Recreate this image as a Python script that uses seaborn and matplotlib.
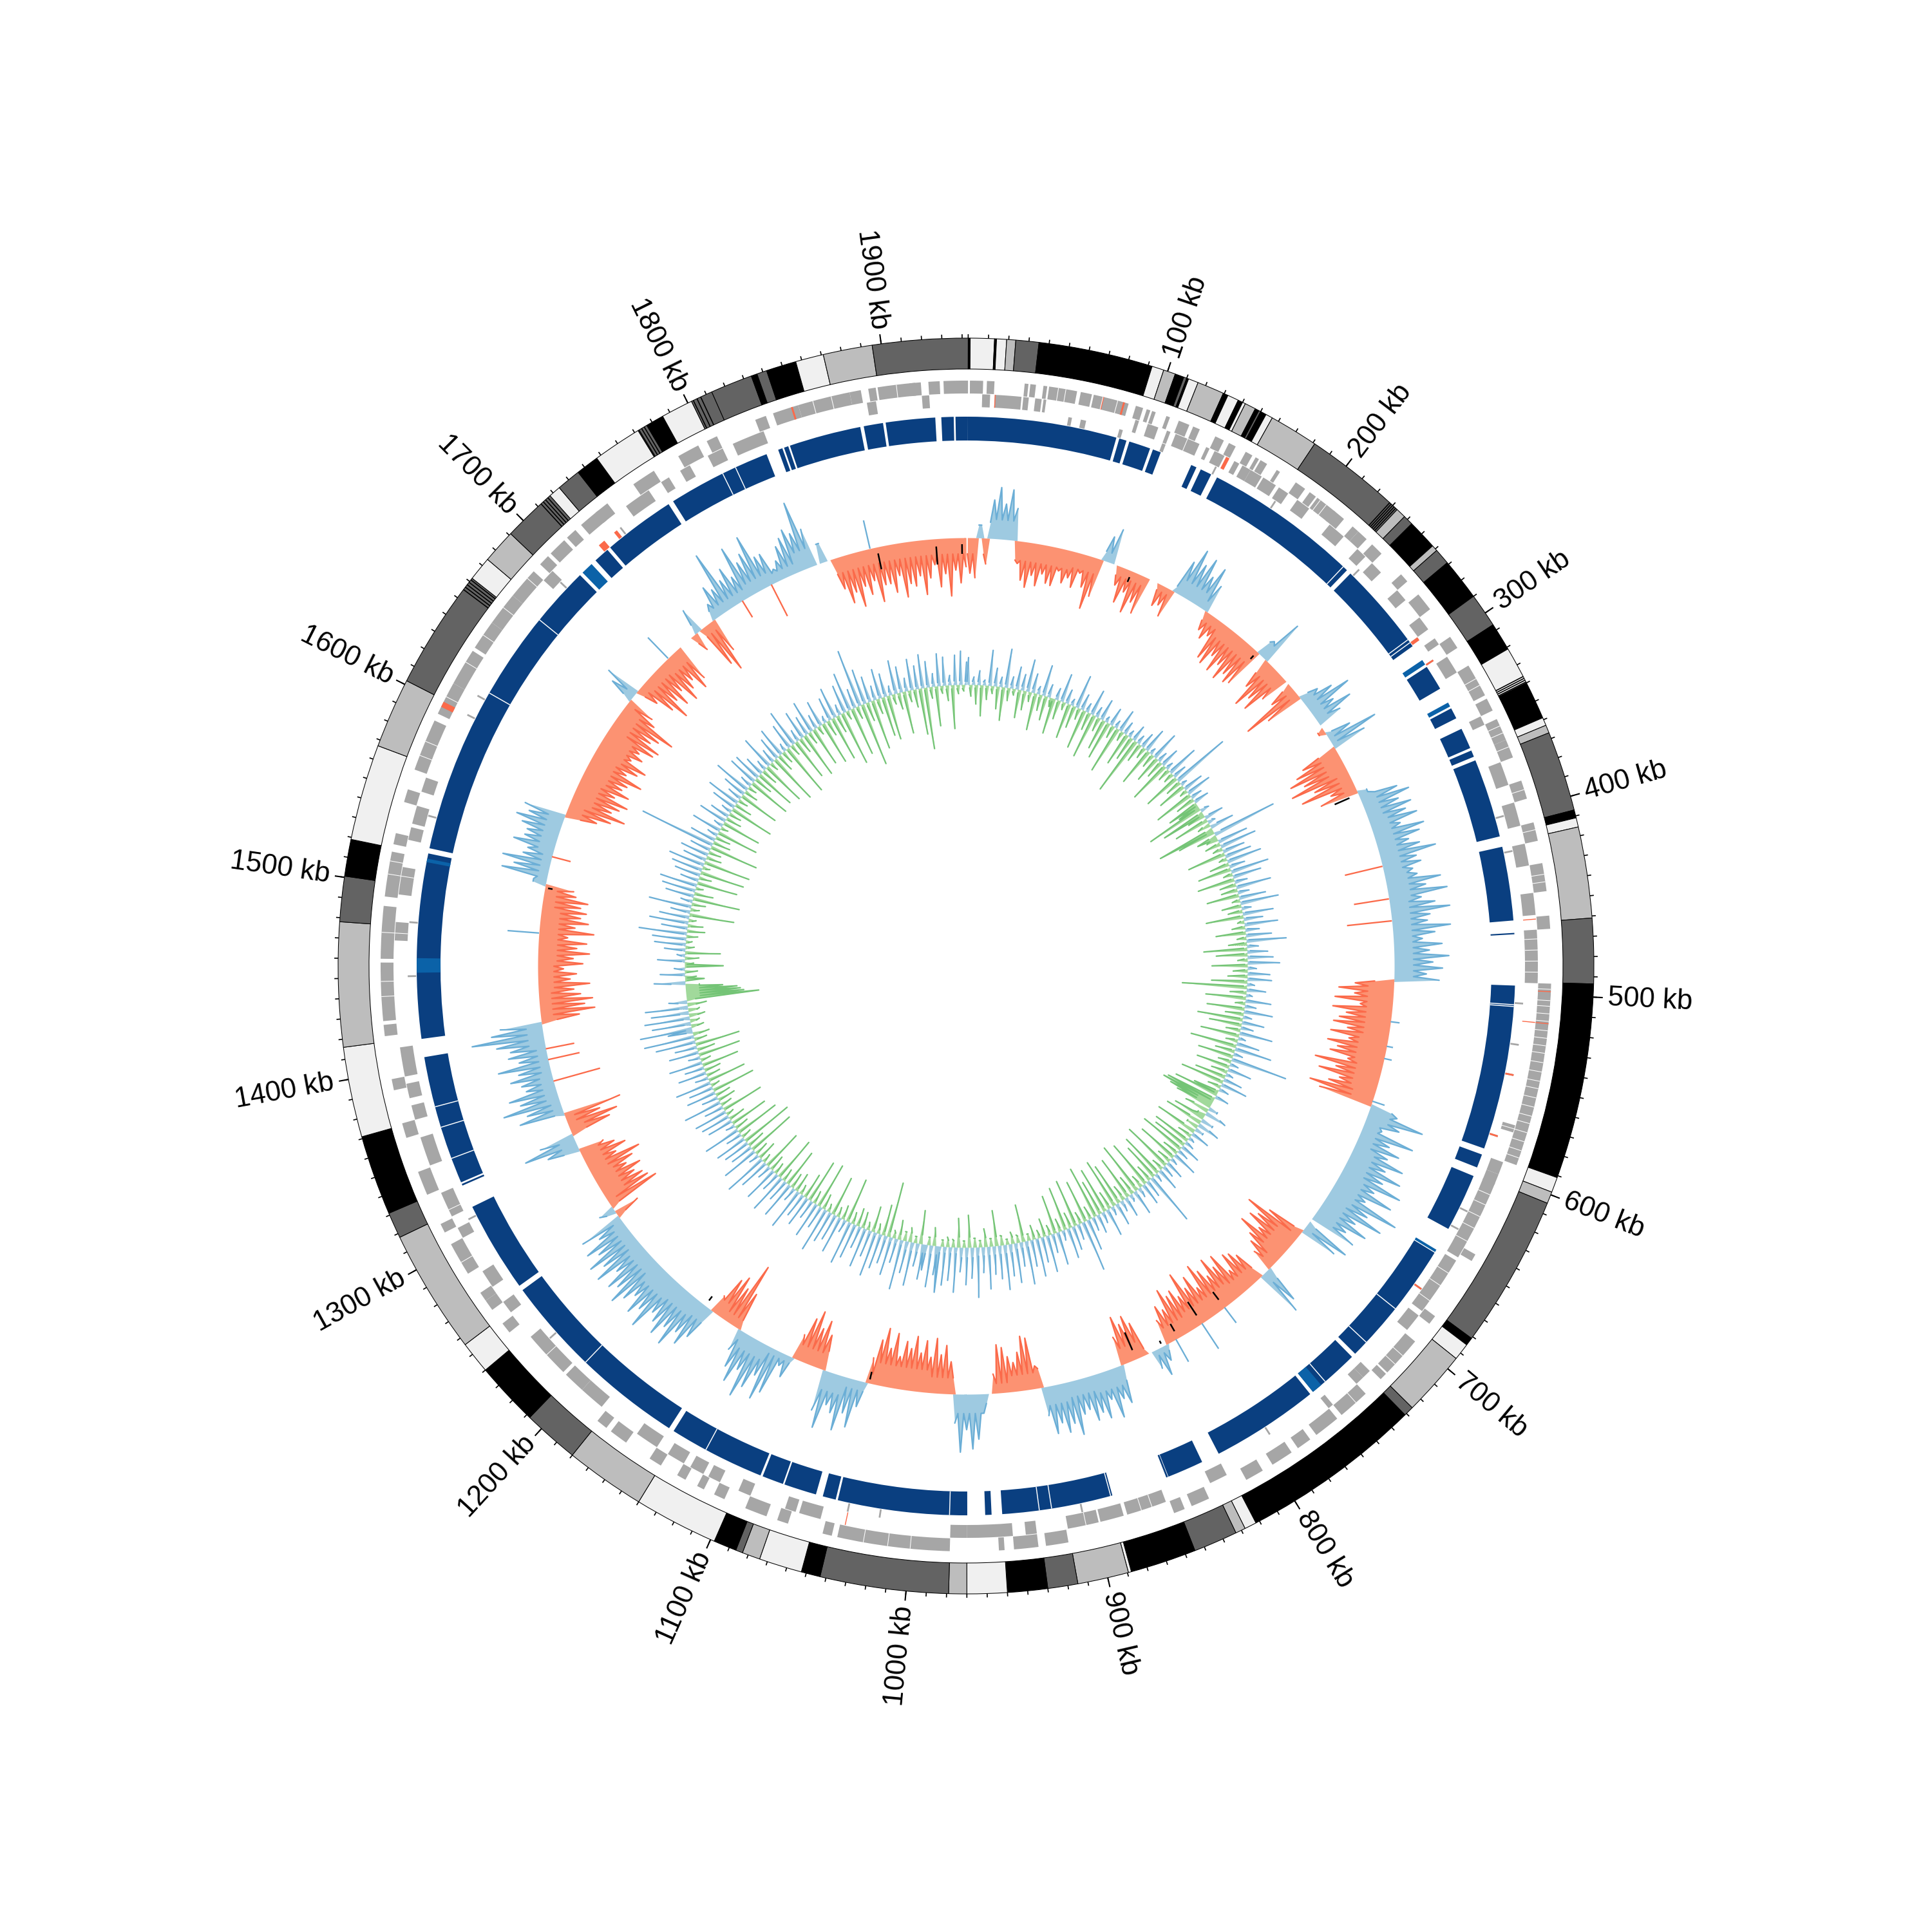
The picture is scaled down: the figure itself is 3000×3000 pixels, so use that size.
import numpy as np
import pandas as pd
import matplotlib
matplotlib.use("Agg")
import matplotlib.pyplot as plt
import seaborn as sns

sns.set_theme(style="white")
plt.rcParams["font.family"] = ["Liberation Sans", "DejaVu Sans"]

GENOME_KB = 1943

# outer band: end position (kb) and tone of each band
band_end = [1, 13, 14, 19, 23.5, 35, 92, 98, 104, 108.5, 110, 111, 116, 129.5, 132, 137.6, 140, 141.5, 147, 149, 150,
            153, 156.5, 181, 233, 238, 243, 258, 261, 269, 290, 307, 321, 340, 359, 363, 367, 407, 411, 415.6, 461,
            493.5, 591, 598.6, 604.5, 681, 685, 693.5, 726, 731, 822, 828, 833, 855, 888, 889.5, 915, 930, 950, 970,
            979, 1043, 1052.5, 1074, 1083, 1086.5, 1098, 1140, 1180, 1208, 1240, 1256, 1318, 1331, 1371, 1416, 1478,
            1500.6, 1519, 1567, 1602, 1662, 1674, 1691, 1718, 1724, 1736, 1747.5, 1772, 1777, 1786, 1802, 1813, 1834,
            1837, 1842, 1857, 1871, 1895.5, 1943]
band_tone = list("kwkwmdkwmkdkwmkwkwmkd"
                 "kwmdmdkmdkdkwkwmdkwm"
                 "dkwmdkwmdkwmdkwmdkwm"
                 "dkwmdkwmdkwmdkwmdkwm"
                 "dwmdwdkwdkwddkdkwmd")
tone_color = {"w": "#f0f0f0", "m": "#bdbdbd", "d": "#636363", "k": "#000000"}
band_stripes = [228, 229, 230, 231, 232, 252, 253, 336.5, 337.5, 338.5, 339.5, 1655, 1656.5, 1658, 1659.5, 1661,
                1712, 1713.5, 1715, 1716.5, 1772.5, 1774, 1775.5, 1803, 1805, 1807, 1842.5, 1844, 1845.5, 1847]

# gene tiles, one list per lane (start, end in kb)
gene_outer = [(1, 8), (10, 14), (30, 32), (33, 36), (40, 42), (43, 58), (60, 66), (67, 86), (90, 94), (96, 98),
              (99, 101), (107, 109), (114, 120), (122, 126), (135, 140), (143, 147), (153, 157), (159, 161),
              (162, 166), (172, 174), (184, 190), (193, 197), (198, 210), (209, 216), (222, 226), (226, 232),
              (236, 243), (258, 263), (272, 282), (300, 307), (318, 336), (338, 345), (350, 362), (362, 372),
              (385, 395), (408, 418), (430, 445), (458, 465), (494, 592), (644, 648), (683, 688), (700, 722),
              (723, 727), (738, 755), (758, 772), (776, 784), (788, 800), (806, 816), (838, 848), (852, 858),
              (916, 928), (932, 945), (950, 953), (979, 1039), (1042, 1047), (1066, 1072), (1078, 1090),
              (1102, 1108), (1114, 1118), (1125, 1130), (1140, 1147), (1162, 1172), (1175, 1181), (1247, 1253),
              (1262, 1268), (1268, 1273), (1285, 1303), (1310, 1315), (1332, 1345), (1364, 1372), (1390, 1396),
              (1419, 1425), (1427, 1458), (1460, 1488), (1493, 1517), (1521, 1527), (1544, 1551), (1562, 1590),
              (1594, 1612), (1612, 1632), (1634, 1650), (1650, 1668), (1668, 1685), (1690, 1696), (1698, 1708),
              (1710, 1716), (1720, 1732), (1730, 1738), (1755, 1768), (1783, 1795), (1800, 1806), (1828, 1834),
              (1838, 1852), (1852, 1880), (1880, 1886), (1890, 1894), (1895, 1915), (1912, 1918), (1922, 1928),
              (1930, 1943)]
gene_middle = [(7.7, 12), (14.5, 29), (30, 33), (36.5, 40), (41, 42.5), (92, 94), (99, 105), (110, 112), (115, 129),
               (133, 135), (138, 144), (150, 153), (155, 160), (160, 167), (168, 176), (178, 184), (190, 198),
               (212, 222), (232, 238), (243, 250), (263, 270), (282, 290), (296, 300), (308, 318), (345, 350),
               (372, 385), (395, 408), (418, 430), (445, 457), (465, 494), (572, 576), (593, 600), (600, 606),
               (605, 650), (652, 685), (688, 698), (728, 733), (733, 738), (755, 758), (824, 834), (860, 882),
               (884, 897), (898, 915), (932, 938), (945, 970), (970, 979), (1050, 1062), (1064, 1070), (1090, 1097),
               (1108, 1115), (1118, 1126), (1130, 1140), (1147, 1160), (1184, 1198), (1198, 1210), (1212, 1238),
               (1255, 1262), (1272, 1282), (1303, 1309), (1316, 1330), (1346, 1362), (1372, 1380), (1384, 1392),
               (1396, 1412), (1470, 1480), (1495, 1510), (1525, 1532), (1534, 1544), (1552, 1560), (1685, 1692),
               (1745, 1760), (1768, 1773), (1780, 1786), (1797, 1806), (1812, 1830), (1888, 1893), (1918, 1922)]
gene_inner = [(56, 58), (63, 66), (85, 87), (110, 112), (142, 143), (180, 181), (240, 241), (290, 291), (305, 306),
              (400, 401), (420, 421), (505, 506), (528, 529), (545, 546), (580, 581), (625, 626), (636, 637),
              (675, 676), (792, 793), (905, 906), (1018, 1019), (1036, 1037), (1230, 1231), (1310, 1311),
              (1450, 1451), (1480, 1481), (1540, 1541), (1600, 1601), (1612, 1613), (1690, 1691), (1735, 1736)]
gene_salmon_outer = [(72, 72.6), (83, 84), (498, 498.5), (515, 515.5), (1598, 1601), (1848, 1849)]
gene_salmon_middle = [(14.5, 15), (145, 147), (459, 459.5), (515, 515.5), (1036, 1036.5)]
gene_salmon_inner = [(290, 292), (305, 306), (545, 546), (580, 581), (675, 676), (1720, 1724), (1731, 1733)]
gene_cuts = [48, 52, 72, 80, 122, 200, 204, 326, 330, 354, 358, 366, 390, 412, 436, 440, 470, 476, 482, 488, 497, 503,
             506, 510, 514, 519, 523, 527, 531, 536, 541, 546, 550, 555, 560, 565, 569, 574, 579, 584, 588, 612, 618,
             625, 632, 640, 660, 668, 678, 710, 716, 745, 868, 874, 905, 1000, 1012, 1025, 1225, 1292, 1320, 1440,
             1448, 1474, 1505, 1512, 1570, 1578, 1604, 1625, 1642, 1660, 1680, 1860, 1870, 1905]

# navy ring
blue_main = [(0, 84.7), (86.4, 90.6), (92.3, 104.6), (106.3, 111), (129.6, 132.8), (135.5, 142), (145.7, 235.9),
             (238.6, 292.5), (306.6, 321), (333.7, 340), (346.6, 358.5), (360, 363.8), (366, 411), (417, 459),
             (495.7, 589.4), (593, 600.8), (606, 639), (654.5, 727), (729.5, 759), (761, 822.6), (833, 853.7),
             (887, 950), (956, 959.6), (969.7, 1043.3), (1044.5, 1052), (1056, 1074.6), (1075.5, 1087.7),
             (1089, 1144), (1147, 1261), (1264, 1315.8), (1331, 1404.6), (1415, 1520), (1523, 1701), (1713, 1722),
             (1724, 1765), (1768, 1827), (1841, 1882), (1884, 1895), (1896.5, 1924.6), (1928, 1935), (1936, 1943),
             (466, 466.8), (854, 855), (1329, 1330), (1834, 1836.5), (1837.5, 1840)]
blue_light = [(302, 305), (330, 332.5), (652.5, 654), (753, 759), (1452.4, 1460.6), (1515, 1517), (1703, 1710)]
blue_cuts = [233, 288, 290, 411.5, 506.5, 507.5, 693, 718, 750, 888, 922, 929, 979.7, 1123, 1207, 1345.5, 1364,
             1376, 1617, 1667, 1800, 1808]

# red/blue histogram, one value per 4 kb
skew_values = [
    -55, -62, 20, -40, 60, 80, 55, 78, 50, -35, -60, -70, -50, -65, -45, -58, -60, -35, -52, -42, -55, -30, -50, -82, -60,
    40, 55, 0, -30, -55, -35, -65, -45, -60, 0, 0, -35, -30, -45, 55, 80, 60, 75, 50, 70, 45, -30, -40, -30, -65,
    -70, -50, -72, -55, -75, -60, -70, -65, 30, 72, -50, -80, -60, -75, -45, 0, -40, -95, -60, 30, 50, 75, 40, 65, 40,
    0, -10, 40, 80, 55, -60, -75, -90, -70, -95, -60, -85, -40, -60, 15, 60, 76, 55, 72, 60, 75, 45, 80, 70, 50,
    65, 88, 55, 60, 45, 50, 85, 60, 92, 50, 70, 92, 60, 55, 90, 65, 45, 75, 55, 85, 60, 75, 50, 70, -60,
    -85, -60, -90, -50, -92, -70, -80, -88, -65, -90, -60, -92, -75, -85, -55, -105, -70, -95, -60, -75, -103, -85, 45, 90, 55,
    30, 85, 50, 70, 55, 85, 60, 90, 65, 100, 60, 95, 55, 115, 70, 100, 60, 85, 55, 75, 0, 75, 60, -60, -95,
    -70, -80, -55, -84, -60, -50, -35, 60, 75, -50, -60, -65, -40, -75, -60, -80, -55, -70, -85, -50, -75, -60, -90, -55, -70,
    -65, -80, -50, -60, -40, 25, 45, 30, 0, -55, -70, -60, -75, -45, 60, 50, 77, 45, 72, 60, 70, 50, 55, 85, 65,
    77, 60, 75, 45, -35, -80, -84, -60, -45, -55, -70, -75, -30, 0, 30, 70, 85, 55, 90, 45, -50, -75, -60, -85, -55,
    -80, -60, -85, -65, -75, -50, -85, -60, -90, -70, -40, 40, 75, 55, 85, 60, 50, 90, 65, -55, -75, -60, -85, -70, -40,
    35, 20, 70, 85, 50, 75, 95, 55, 80, 60, 35, -60, -105, -60, -75, -65, -30, 55, 75, 60, 90, 65, 85, 70, 60,
    95, 70, 85, 60, 75, 91, 70, 80, 55, 85, 65, 84, 60, 75, 45, 70, -40, 25, -85, -75, -70, -60, -75, -55, -70,
    -86, -50, -70, -55, -40, 50, 84, 55, -65, -80, -55, -91, 70, 55, 90, 60, 75, 45, 50, 65, 50, 80, 45, 60, 55,
    75, 112, 80, 65, -60, -85, -70, -83, -65, -55, -80, -50, -60, -40, -70, -55, -80, -60, -75, -45, -85, -55, -75, -62, -70,
    -60, -70, -50, -45, 20, 72, 55, 75, 45, 40, 65, 50, 49, 60, 72, 55, 65, -50, -70, -90, -65, -75, -85, -60, -80,
    -65, -70, -90, -60, -75, -85, -55, -70, -60, -80, -85, -65, -75, -95, -55, -45, 40, 55, -35, -60, -82, -55, -70, -50, -75,
    -60, -50, -72, -60, 0, 0, 0, -30, 40, -70, -85, -55, 25, 50, 40, 97, 45, 60, 40, 85, 55, 65, 89, 50, 50,
    20, 30, 50, 60, 70, 60, 107, 60, 0, 30, 0, -50, -75, -60, -85, -55, -70, -50, -85, -60, -60, -75, -50, -85, -65,
    -70, -55, -85, -60, -40, -75, -55, -90, -50, -70, -45,
]
skew_floor = [25, 30, 30, 30, 25, 15, 15, 10, 25, 15, 25, 25, 25, 15, 20, 10, 30, 20, 25, 30,
              30, 35, 30, 30, 30, 40, 40, 45, 40, 35, 25, 35, 40, 35, 15, 35, 20, 25, 30, 30,
              25, 10, 25, 30, 25, 30, 25, 15, 30, 25, 35, 35, 15, 30, 25, 10, 25, 15, 25, 30,
              35, 25, 20, 15, 35, 30, 25, 15, 20, 15, 25, 20, 25, 30, 30, 20, 15, 25, 25, 35,
              40, 45, 30, 15, 20, 25, 15, 15, 15, 20, 15, 30, 25, 25, 25, 25, 25, 25]
overlay_kb = [412, 436, 452, 1372, 1388, 1396, 1536, 1772, 1796, 1704, 1872, 525, 543, 552, 584, 770, 790, 812, 1480]
overlay_amp = [-60, -55, -70, -75, -50, -45, -30, -30, -55, 45, 45, 14, 10, 12, 20, 30, 47, 40, 49]
black_kb = [122, 230, 357, 770, 790, 810, 823, 844, 1041, 1173, 1513, 1877, 1920, 1939]
black_near = [10, 8, 15, 15, 15, 12, 5, 15, 6, 10, 5, 10, 12, 10]
black_far = [18, 15, 40, 30, 40, 25, 10, 45, 18, 18, 12, 35, 40, 25]

# blue/green histogram, one value per 3 kb
content_values = [
    42, -18, 12, -30, 22, -48, 8, -22, 55, -12, 28, -35, 15, -52, 60, -20, 18, -10, 35, -44, 25, -30, 50, -15, 30, -58, 12, -25, 48, -38, 20, -14, -56,
    18, -30, 44, -12, 22, -55, 10, -35, 52, -18, 25, -62, 14, -28, 40, -70, 16, -22, 33, -48, 9, -60, 28, -20, 12, -75, 35, -15, 20, -52, 11, -38, 25,
    -92, 14, -30, 24, -18, 38, -60, 10, -22, 45, -42, 16, -28, 30, -66, 12, -20, 50, -16, 22, -58, 92, -25, 10, -45, 32, -12, 40, -62, 18, -30, 24, -50,
    -35, -91, 14, -70, -28, 30, -55, 12, -20, 38, -92, -60, 102, -32, -18, 48, -24, 58, -15, 35, -60, 42, -12, 55, -30, 25, -52, 60, -14, 45, -58, 20, -25,
    55, -25, 18, -50, 42, -12, 60, -30, 15, -22, 48, -58, 30, -10, 52, -20, 22, -46, 40, -14, 62, -28, 18, -67, 32, -48, 40, -15, 50, -55, 14, -22, 35,
    -30, 38, -55, 12, -100, 30, -25, 10, -62, 40, -15, 18, -58, 45, -28, 14, -70, 35, -50, 20, -22, 52, -60, 12, -18, 36, -72, 58, -30, 15, -55, 89, -20,
    14, -52, 38, -25, 12, -48, 30, -68, 42, -20, 16, -40, -70, 22, -80, -86, -72, -58, 15, -38, 35, -12, -50, 20, -60, 36, -18, 14, -66, 30, -22, 10, -60,
    15, -55, 32, -72, 18, -25, 40, -64, 12, -22, 30, -78, 20, -18, 36, -70, 14, -58, 84, -26, 28, -75, 35, -20, 16, -82, 40, -30, 12, -68, 32, -24, 18,
    -66, 36, -78, 14, -28, 44, -72, 18, -55, 30, -82, 22, -20, 50, -66, 80, -18, 25, -74, 38, -24, 48, -68, 16, -20, 52, -60, 30, -15, 58, -28, 40, -12,
    60, -22, 42, -10, 68, -58, 38, -12, 62, -18, 50, -8, 70, -15, 52, -55, 44, -12, 66, -28, 40, -10, 78, -14, 48, -50, 58, -10, 38, -45, 70, -12, 52,
    -15, 60, -10, 72, 45, -28, 65, -12, 40, 55, -52, 36, -10, 68, -22, 50, -14, 78, -30, 38, -12, 60, -86, 44, -48, 55, -15, 70, -40, 42, -12, 62, -25,
    35, -28, 55, -18, 68, -70, 20, -22, 58, -15, 42, -62, 50, -12, 70, -24, 36, -72, 56, -20, 30, -68, 48, -40, 38, -15, 65, -30, 22, -24, 58, -60, 35,
    -20, 62, -70, 30, -18, 55, -25, 22, -64, 48, -14, 68, -30, 16, -22, 58, -76, 36, -28, 42, -83, 50, -16, 25, -70, 58, -22, 14, -60, 40, -26, 46, -12,
    52, -66, 30, -18, 60, -28, 25, -24, 46, -68, 38, -14, 56, -60, 20, -22, 44, -26, 30, -58, 52, -16, 18, -66, 46, -28, 34, -70, 62, -20, 78, -26, 38,
    81, -20, 60, -15, 70, -25, 58, -18, 66, -30, 28, -113, -90, -85, -80, -58, -22, 48, -30, -18, 38, -20, 16, -60, -14, 42, -22, 12, -55, 32, -14, 48, -10,
    52, -18, 74, -28, 40, -24, 60, -12, 46, -70, 30, -14, 66, -22, 18, -74, 44, -30, 52, -12, 58, -64, 28, -20, 40, -70, 48, -12, 56, -74, 36, -24, 44,
    -20, 32, -77, 119, -28, 40, -24, 16, -66, 46, -12, 14, -62, 44, -25, 30, -20, 16, -70, 38, -28, 52, -16, 22, -64, 36, -22, 58, -14, 18, -68, 46, -30,
    44, -64, 30, -26, 16, -70, 52, -14, 22, -80, 36, -28, 46, -20, 12, -83, 40, -18, 58, -66, 18, -25, 44, -72, 30, -20, 50, -62, 22, -14, 40, -68, 10,
    -25, 36, -70, 48, -28, 16, -85, 44, -14, 60, -76, 30, -20, 90, -99, 55, -30, 40, -78, 22, -24, 46, -62, 36, -70, 14, -16, 52, -26, 40, -66, 20, -18,
    48, -28, 36, -72, 52, -96, 40, -18, 20, -62, 50, -12, 44, -24, 15, -68, 46, -14, 52, -10, 35,
]
content_floor = [5, 5, 5, 6, 5, 4, 4, 4, 4, 4, 4, 4, 4, 4, 4, 8, 12, 6, 5, 4,
                 4, 5, 4, 5, 4, 5, 4, 4, 5, 4, 5, 5, 25, 20, 5, 4, 5, 5, 8, 8,
                 6, 4, 5, 5, 4, 10, 14, 14, 16, 10, 14, 14, 8, 6, 5, 5, 5, 4, 5, 4,
                 4, 4, 4, 4, 4, 4, 4, 4, 5, 10, 14, 22, 4, 5, 4, 6, 5, 4, 6, 4,
                 4, 4, 4, 4, 4, 4, 4, 4, 4, 5, 4, 5, 5, 6, 4, 5, 6, 5]

major_ticks = list(range(100, 2000, 100))
minor_ticks = list(range(0, GENOME_KB, 10))


def to_theta(kb):
    return np.deg2rad(0.2 + np.asarray(kb, dtype=float) * 360 / GENOME_KB)


def draw_tiles(ax, tiles, inner, outer, color, **kwargs):
    tiles = np.asarray(tiles, dtype=float)
    left = to_theta(tiles[:, 0])
    width = to_theta(tiles[:, 1]) - left
    ax.bar(left, outer - inner, width=width, bottom=inner, align="edge", color=color, linewidth=0, **kwargs)


def spike_path(values, floors, step, floor_step=20):
    """Turn the binned values into a saw profile: a floor with one spike per bin."""
    kb, level = [], []
    for i, v in enumerate(values):
        start = i * step
        floor = min(abs(v), floors[min(int(start // floor_step), len(floors) - 1)]) * np.sign(v)
        kb += [start, start + step * 0.5]
        level += [floor, v]
    return np.array(kb), np.array(level, dtype=float)


def draw_hist(ax, values, floors, step, base, pos_fill, pos_line, neg_fill, neg_line, lw=0.55):
    kb, level = spike_path(values, floors, step)
    theta = to_theta(kb)
    for part, fill, line in [(np.maximum(level, 0), pos_fill, pos_line), (np.minimum(level, 0), neg_fill, neg_line)]:
        ax.fill_between(theta, base, base + part, color=fill, linewidth=0)
        on = part != 0
        frame = pd.DataFrame({"theta": theta, "radius": base + part, "seg": np.cumsum(~on)})[on]
        sns.lineplot(data=frame, x="theta", y="radius", units="seg", estimator=None, sort=False,
                     color=line, linewidth=lw, legend=False, ax=ax)


fig = plt.figure(figsize=(10, 10), facecolor="white")
ax = fig.add_axes([0, 0, 1, 1], projection="polar")
ax.set_theta_zero_location("N")
ax.set_theta_direction(-1)

# outer bands
band_start = [0] + band_end[:-1]
band_theta = to_theta(band_start)
band_width = to_theta(band_end) - band_theta
ax.bar(band_theta, 48, width=band_width, bottom=927, align="edge",
       color=[tone_color[t] for t in band_tone[:len(band_end)]], edgecolor="black", linewidth=0.25)
ax.vlines(to_theta(band_stripes), 927, 975, color="black", linewidth=0.4)

# ticks and labels
ax.vlines(to_theta(minor_ticks), 975, 981, color="black", linewidth=0.4)
ax.vlines(to_theta(major_ticks), 975, 990, color="black", linewidth=0.5)
for kb in major_ticks:
    th = to_theta(kb)
    deg = np.rad2deg(th)
    right = deg < 180
    ax.text(th, 998, f"{kb} kb", fontsize=10.5, color="black", va="center",
            ha="left" if right else "right", rotation=(90 - deg) if right else (270 - deg),
            rotation_mode="anchor")

# genes
draw_tiles(ax, gene_outer, 889, 909, "#a6a6a6")
draw_tiles(ax, gene_middle, 868, 888, "#a6a6a6")
draw_tiles(ax, gene_inner, 854, 867, "#a6a6a6")
ax.vlines(to_theta(gene_cuts), 868, 909, color="white", linewidth=0.25)
draw_tiles(ax, gene_salmon_outer, 889, 909, "#fb6a4a")
draw_tiles(ax, gene_salmon_middle, 868, 888, "#fb6a4a")
draw_tiles(ax, gene_salmon_inner, 854, 867, "#fb6a4a")

# navy ring
draw_tiles(ax, blue_main, 816, 853, "#0a3f80")
draw_tiles(ax, blue_light, 816, 853, "#0b62a8")
ax.vlines(to_theta(blue_cuts), 816, 853, color="white", linewidth=0.35)

# histograms
draw_hist(ax, skew_values, skew_floor, 4, 665, "#9ecae1", "#6baed6", "#fc9272", "#fb6a4a")
amp = np.array(overlay_amp)
ax.vlines(to_theta(overlay_kb), 665 + np.minimum(amp, 0), 665 + np.maximum(amp, 0),
          colors=["#6baed6" if a > 0 else "#fb6a4a" for a in overlay_amp], linewidth=0.55)
ax.vlines(to_theta(black_kb), 665 - np.array(black_far), 665 - np.array(black_near), color="black", linewidth=0.6)
draw_hist(ax, content_values, content_floor, 3, 437, "#9ecae1", "#6baed6", "#a1d99b", "#74c476")

ax.set_rlim(0, 1500)
ax.axis("off")
fig.savefig("out.png", dpi=300)
